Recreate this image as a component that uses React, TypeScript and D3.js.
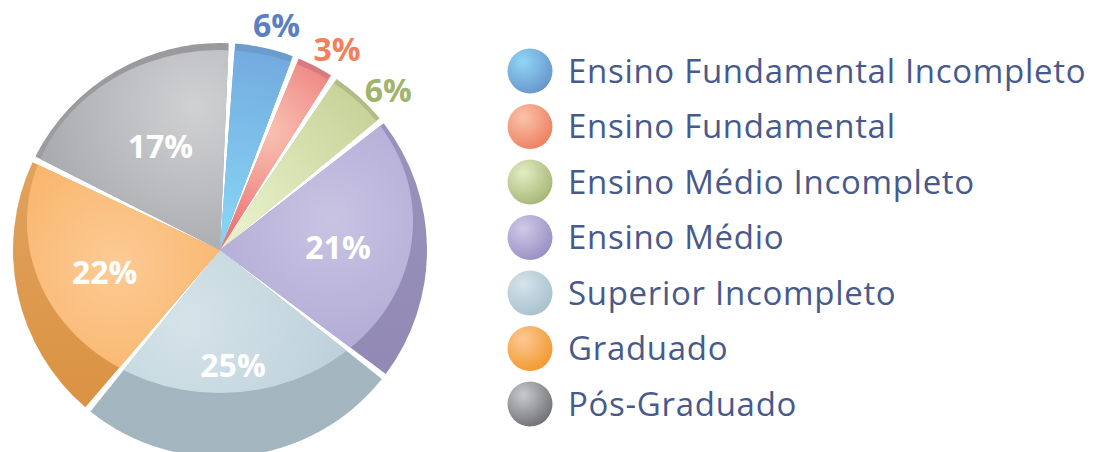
import React from 'react';
import * as d3 from 'd3';

// ---- data ----
const categories = [
  'Ensino Fundamental Incompleto',
  'Ensino Fundamental',
  'Ensino Médio Incompleto',
  'Ensino Médio',
  'Superior Incompleto',
  'Graduado',
  'Pós-Graduado',
];
// printed percentages
const percentLabels = [6, 3, 6, 21, 25, 22, 17];
// angular share of each drawn slice
const sliceShares = [5.05, 3.3, 5.0, 21.2, 25.55, 21.2, 18.7];
// which labels sit outside the pie
const labelOutside = [true, true, true, false, false, false, false];

// ---- style ----
const W = 1093;
const H = 452;
const CX = 220;
const CY = 250;
const R = 207;
const GAP = 6.5;
const START = (3.3 * Math.PI) / 180;

const palette = [
  { rimTop: '#6b9cce', rimBot: '#6b9cce', base: '#72a8de', hl: '#86d3f4', label: '#5b7fc1', ball0: '#8fd6f5', ball1: '#6895cc' },
  { rimTop: '#d87b7e', rimBot: '#d87b7e', base: '#ec7374', hl: '#f9c2b2', label: '#f27f5d', ball0: '#f9c3ab', ball1: '#ef7f60' },
  { rimTop: '#b0bc86', rimBot: '#b0bc86', base: '#c6d196', hl: '#e8f1cb', label: '#a0b56b', ball0: '#e3edc3', ball1: '#a6b676' },
  { rimTop: '#9c95c0', rimBot: '#8f87b2', base: '#aca5d2', hl: '#c9c3e3', label: '#fff', ball0: '#d0cae7', ball1: '#9a8fc4' },
  { rimTop: '#a6b9c3', rimBot: '#a3b5bf', base: '#b9cdd7', hl: '#d5e3e9', label: '#fff', ball0: '#d6e3ea', ball1: '#a8c1cd' },
  { rimTop: '#e2aa6c', rimBot: '#da8f3c', base: '#f8ae5e', hl: '#fccb95', label: '#fff', ball0: '#fcc993', ball1: '#f3982f' },
  { rimTop: '#99999e', rimBot: '#a3a4a8', base: '#a2a3a7', hl: '#d0d1d3', label: '#fff', ball0: '#c9cacd', ball1: '#6f7175' },
];
// highlight location for the shading of each slice: [angle deg, radius fraction, gradient radius]
const highlight: [number, number, number][] = [
  [8, 0.12, 190],
  [22, 0.62, 110],
  [22, 0.14, 190],
  [75, 0.55, 170],
  [205, 0.38, 190],
  [262, 0.51, 170],
  [-10, 0.7, 190],
];

const LEGEND_X = 530;
const LEGEND_Y0 = 71;
const LEGEND_DY = 55.5;
const TEXT_COLOR = '#475a8b';
const FONT = '"Open Sans", "Noto Sans", sans-serif';

export default function App() {
  const pie = d3
    .pie<number>()
    .value((d) => d)
    .sort(null)
    .startAngle(START)
    .endAngle(START + 2 * Math.PI);
  const arcs = pie(sliceShares);
  const nominal = pie(percentLabels);

  const arc = d3
    .arc<d3.PieArcDatum<number>>()
    .innerRadius(0)
    .outerRadius(R)
    .padAngle(GAP / R)
    .padRadius(R);

  // coordinates relative to the pie centre
  const polar = (ang: number, r: number): [number, number] => [
    r * Math.sin(ang),
    -r * Math.cos(ang),
  ];

  return (
    <svg
      width={W}
      height={H}
      viewBox={`0 0 ${W} ${H}`}
      style={{ position: 'absolute', left: 0, top: 0, background: '#fff' }}
    >
      <defs>
        <clipPath id="innerDisc">
          <ellipse cx={0} cy={-28.5} rx={193} ry={171.5} />
        </clipPath>
        {palette.map((p, i) => {
          const [a, f, gr] = highlight[i];
          const [hx, hy] = polar((a * Math.PI) / 180, f * R);
          return (
            <React.Fragment key={i}>
              <linearGradient id={`rim${i}`} gradientUnits="userSpaceOnUse" x1={0} y1={-R} x2={0} y2={R}>
                <stop offset="0" stopColor={p.rimTop} />
                <stop offset="1" stopColor={p.rimBot} />
              </linearGradient>
              <radialGradient id={`in${i}`} gradientUnits="userSpaceOnUse" cx={hx} cy={hy} r={gr}>
                <stop offset="0" stopColor={p.hl} />
                <stop offset="1" stopColor={p.base} />
              </radialGradient>
              <radialGradient id={`ball${i}`} cx="0.35" cy="0.3" r="0.75">
                <stop offset="0" stopColor={p.ball0} />
                <stop offset="1" stopColor={p.ball1} />
              </radialGradient>
            </React.Fragment>
          );
        })}
      </defs>

      <g transform={`translate(${CX},${CY})`}>
        {arcs.map((d, i) => {
          const path = arc(d) || '';
          return (
            <g key={i}>
              <path d={path} fill={`url(#rim${i})`} />
              <path d={path} fill={`url(#in${i})`} clipPath="url(#innerDisc)" />
            </g>
          );
        })}

        <g fontFamily={FONT} fontWeight={700} fontSize={32} textAnchor="middle">
          {arcs.map((d, i) => {
            if (labelOutside[i]) {
              const n = nominal[i];
              const mid = (n.startAngle + n.endAngle) / 2;
              const [x, y] = polar(mid, 232);
              return (
                <text key={i} x={x} y={y} dy="0.36em" fill={palette[i].label}>
                  {percentLabels[i]}%
                </text>
              );
            }
            const mid = (d.startAngle + d.endAngle) / 2;
            const [x, y] = polar(mid, 118);
            return (
              <text key={i} x={x} y={y} dy="0.3em" fill="#fff">
                {percentLabels[i]}%
              </text>
            );
          })}
        </g>
      </g>

      <g fontFamily={FONT} fontSize={33} letterSpacing={0.7} fill={TEXT_COLOR}>
        {categories.map((c, i) => {
          const y = LEGEND_Y0 + i * LEGEND_DY;
          return (
            <g key={c}>
              <circle cx={LEGEND_X} cy={y} r={22.5} fill={`url(#ball${i})`} />
              <text x={LEGEND_X + 38} y={y} dy="0.36em">
                {c}
              </text>
            </g>
          );
        })}
      </g>
    </svg>
  );
}
